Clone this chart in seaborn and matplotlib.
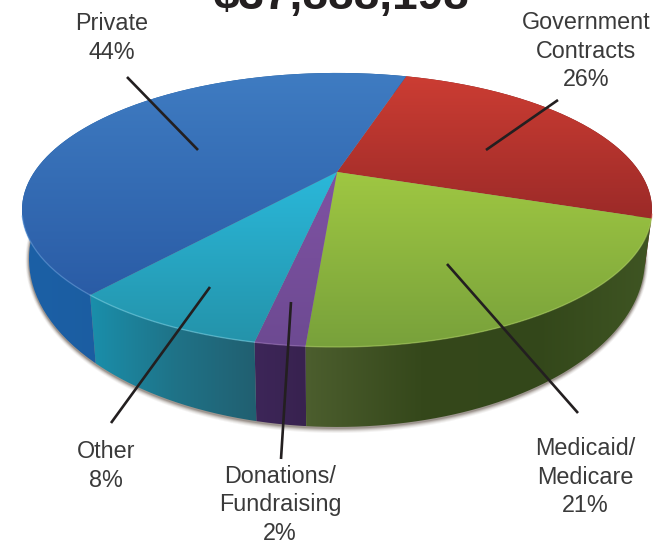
import numpy as np
import matplotlib
matplotlib.use("Agg")
import matplotlib.pyplot as plt
from matplotlib.patches import PathPatch, Polygon
from matplotlib.path import Path
import seaborn as sns

# ---- data ----
categories = ["Government\nContracts", "Medicaid/\nMedicare", "Donations/\nFundraising", "Other", "Private"]
shares = [26, 21, 2, 8, 44]
title_text = "$37,888,198"
top_colors = [["#cc3d33", "#9c2a28"], ["#9fc742", "#78a13b"], ["#7f52a3", "#6d4a92"],
              ["#2ab8da", "#2493aa"], ["#3f7cc2", "#2a5ca6"]]
wall_colors = [["#7a1f1f", "#7a1f1f"], ["#4c5e2e", "#35481b", "#33471a", "#3f5523"],
               ["#3d2659", "#38224f"], ["#1a8fab", "#1f7388", "#215f70"], ["#1c60a6", "#1a5390"]]
rim_colors = ["#d8574a", "#a9cf5c", "#9a72bb", "#6fd0e6", "#5c98dc"]
start_angle = 16.8
label_xy = [(586, 51), (585, 477), (280, 505), (106, 466), (112, 38)]
leaders = [((558, 100), (486, 150)), ((578, 413), (447, 264)), ((281, 459), (291, 302)),
           ((111, 423), (210, 287)), ((127, 77), (198, 150))]

sns.set_theme(style="white")
plt.rcParams["font.family"] = ["Liberation Sans", "DejaVu Sans"]

W, H = 654, 547
fig = plt.figure(figsize=(W / 100, H / 100), dpi=100, facecolor="white")
ax = fig.add_axes([0, 0, 1, 1])
ax.set_xlim(0, W)
ax.set_ylim(H, 0)
ax.axis("off")

# projective view of the disc
CX, CY, A, B, K = 337.0, 172.0, 302.7, 126.5, 0.277
TOP = (337.0, 210.0, 315.0, 137.0)
BOT = (337.0, 259.0, 308.0, 168.0)


def rim(theta):
    x, y = np.sin(theta), np.cos(theta)
    d = 1 + K * y
    return CX + A * x / d, CY - B * y / d


def lower(px, py):
    c = (px - TOP[0]) / TOP[2]
    s = (py - TOP[1]) / TOP[3]
    return BOT[0] + BOT[2] * c, BOT[1] + BOT[3] * s


def fill_gradient(verts, colors, horizontal, zorder):
    cmap = sns.blend_palette(colors, as_cmap=True)
    v = np.asarray(verts)
    x0, x1, y0, y1 = v[:, 0].min(), v[:, 0].max(), v[:, 1].min(), v[:, 1].max()
    ramp = np.linspace(0, 1, 256)
    grad = ramp[None, :] if horizontal else ramp[:, None]
    im = ax.imshow(grad, cmap=cmap, extent=(x0, x1, y1, y0), aspect="auto",
                   zorder=zorder, interpolation="bilinear", origin="upper")
    patch = PathPatch(Path(np.vstack([v, v[0]]), closed=False), transform=ax.transData,
                      fc="none", ec="none")
    ax.add_patch(patch)
    im.set_clip_path(patch)


# soft contact shadow under the wall
tt = np.linspace(0, 2 * np.pi, 300)
for grow, alpha in [(5, 0.06), (4, 0.08), (3, 0.12), (2, 0.18), (1, 0.25)]:
    ax.add_patch(Polygon(np.c_[BOT[0] + (BOT[2] + grow * 0.7) * np.cos(tt),
                               BOT[1] + 1 + (BOT[3] + grow) * np.sin(tt)],
                         fc="#4a3a30", ec="none", alpha=alpha, zorder=1))

edges = np.cumsum([0] + shares) / sum(shares) * 2 * np.pi + np.deg2rad(start_angle)

# side walls, then the top face
for i in range(len(shares)):
    th = np.linspace(edges[i], edges[i + 1], 160)
    px, py = rim(th)
    qx, qy = lower(px, py)
    wall = np.vstack([np.c_[px, py], np.c_[qx, qy][::-1]])
    fill_gradient(wall, wall_colors[i], True, 2)

for i in range(len(shares)):
    th = np.linspace(edges[i], edges[i + 1], 160)
    px, py = rim(th)
    face = np.vstack([[CX, CY], np.c_[px, py]])
    fill_gradient(face, top_colors[i], False, 3)
    front = py > TOP[1] + 4
    if front.any():
        ax.plot(np.where(front, px, np.nan), py, color=rim_colors[i], lw=1.0, alpha=0.55,
                zorder=4, solid_capstyle="round")

ax.set_xlim(0, W)
ax.set_ylim(H, 0)

for (a, b) in leaders:
    ax.plot([a[0], b[0]], [a[1], b[1]], color="#231f20", lw=1.9, zorder=6, solid_capstyle="butt")

for cat, val, (x, y) in zip(categories, shares, label_xy):
    ax.text(x, y, f"{cat}\n{val}%", ha="center", va="center", fontsize=16.8, color="#3a3a3a",
            linespacing=1.32, zorder=7)

ax.text(341, 9, title_text, ha="center", va="baseline", fontsize=33, fontweight="bold",
        color="#231f20", zorder=7)

fig.savefig("out.png", dpi=100, facecolor="white")
